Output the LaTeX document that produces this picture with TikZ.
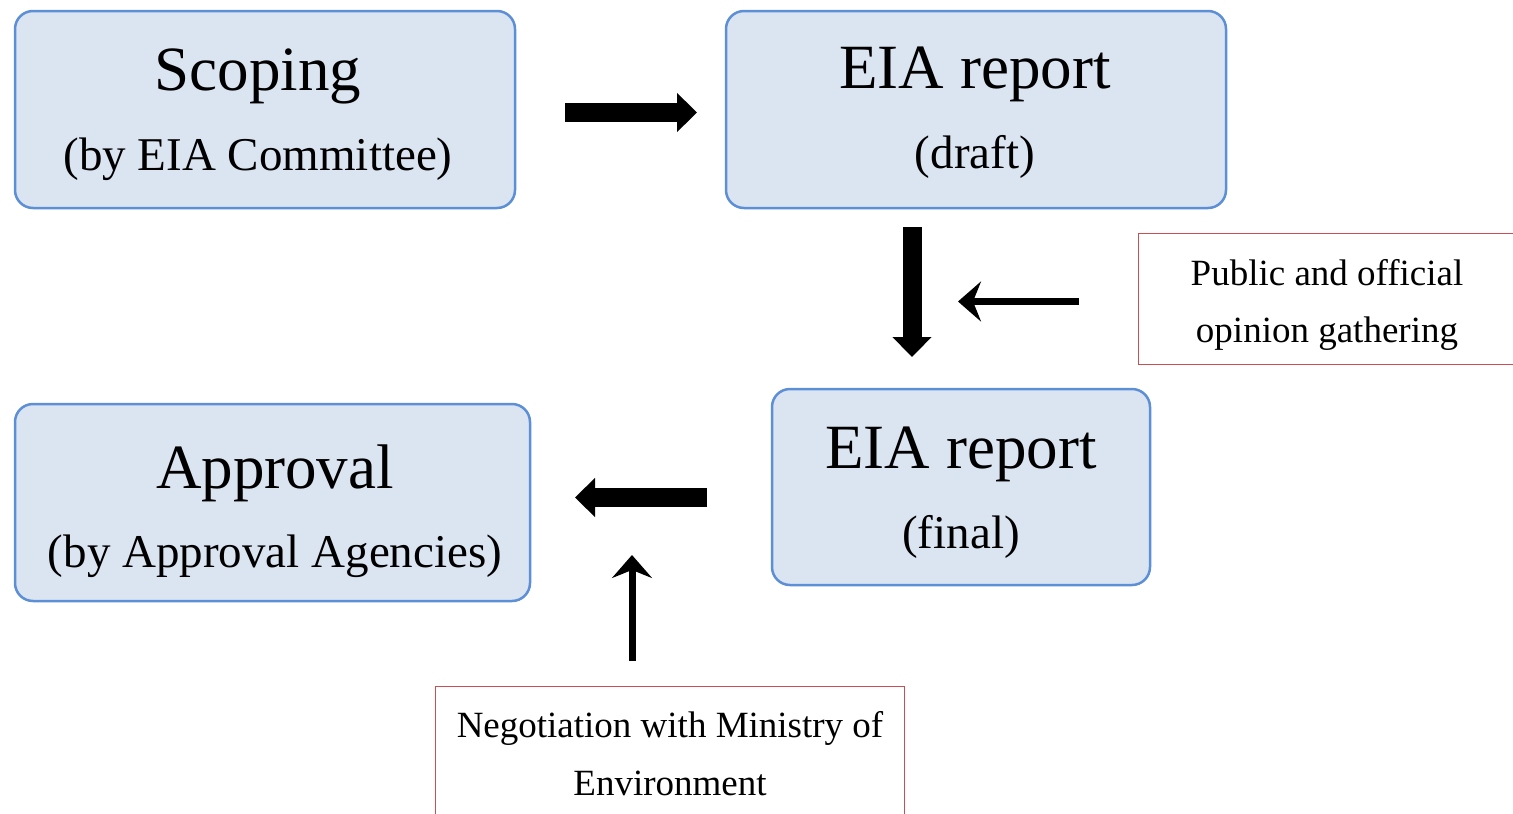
\documentclass[tikz,border=0pt]{standalone}
\usepackage{fontspec}
\setmainfont{Liberation Serif}
\usetikzlibrary{arrows.meta}
\definecolor{boxfill}{RGB}{219,228,241}
\definecolor{boxline}{RGB}{93,143,214}
\definecolor{redline}{RGB}{200,80,80}
\tikzset{
  bluebox/.style={draw=boxline, fill=boxfill, line width=2.5pt, rounded corners=18pt, inner sep=0pt},
  notebox/.style={draw=redline, line width=1pt, inner sep=0pt},
  titletxt/.style={anchor=base, inner sep=0pt, font=\fontsize{63}{70}\selectfont},
  subtxt/.style={anchor=base, inner sep=0pt, font=\fontsize{47}{54}\selectfont},
  notetxt/.style={anchor=base, inner sep=0pt, font=\fontsize{37}{44}\selectfont},
  fatarrow/.style={line width=19pt, -{Triangle[length=20pt,width=38pt]}},
  thinarrow/.style={line width=7pt, -{Stealth[length=23pt,width=40pt,inset=8pt]}},
}
\begin{document}
\begin{tikzpicture}[x=1pt,y=-1pt]
\useasboundingbox (0,0) rectangle (1513,814);
% blue boxes
\draw[bluebox] (15,11) rectangle (515,208);
\node[minimum width=500pt, minimum height=197pt] (scoping) at (265,109.5) {};
\draw[bluebox] (726,11) rectangle (1226,208);
\node[minimum width=500pt, minimum height=197pt] (draft) at (976,109.5) {};
\draw[bluebox] (772,389) rectangle (1150,585);
\node[minimum width=378pt, minimum height=196pt] (final) at (961,487) {};
\draw[bluebox] (15,404) rectangle (530,601);
\node[minimum width=515pt, minimum height=197pt] (approval) at (272.5,502.5) {};
% red note boxes (clipped by picture edge)
\draw[notebox] (1513,233.5) -- (1138.5,233.5) -- (1138.5,364.5) -- (1513,364.5);
\node[minimum width=375pt, minimum height=131pt] (public) at (1325,299) {};
\draw[notebox] (435.5,814) -- (435.5,686.5) -- (904.5,686.5) -- (904.5,814);
\node[minimum width=469pt, minimum height=128pt] (nego) at (670,750) {};
% texts
\node[titletxt] (t1) at (258,90) {Scoping};
\node[subtxt] (s1) at (258,170) {(by EIA Committee)};
\node[titletxt] (t2) at (975,88) {EIA report};
\node[subtxt] (s2) at (975,168) {(draft)};
\node[titletxt] (t3) at (961,468) {EIA report};
\node[subtxt] (s3) at (961,548) {(final)};
\node[titletxt] (t4) at (275,488) {Approval};
\node[subtxt] (s4) at (275,567) {(by Approval Agencies)};
\node[notetxt] (p1) at (1327,285) {Public and official};
\node[notetxt] (p2) at (1327,342) {opinion gathering};
\node[notetxt] (n1) at (670,737) {Negotiation with Ministry of};
\node[notetxt] (n2) at (670,795) {Environment};
% arrows
\coordinate (a1s) at (565,112.5);
\coordinate (a1e) at (697,112.5);
\draw[fatarrow] (a1s) -- (a1e);
\coordinate (a2s) at (912,227);
\coordinate (a2e) at (912,357);
\draw[fatarrow] (a2s) -- (a2e);
\coordinate (a3s) at (1079,301.5);
\coordinate (a3e) at (958,301.5);
\draw[thinarrow] (a3s) -- (a3e);
\coordinate (a4s) at (707,497.5);
\coordinate (a4e) at (575,497.5);
\draw[fatarrow] (a4s) -- (a4e);
\coordinate (a5s) at (632,661);
\coordinate (a5e) at (632,555);
\draw[thinarrow] (a5s) -- (a5e);
\end{tikzpicture}
\end{document}
